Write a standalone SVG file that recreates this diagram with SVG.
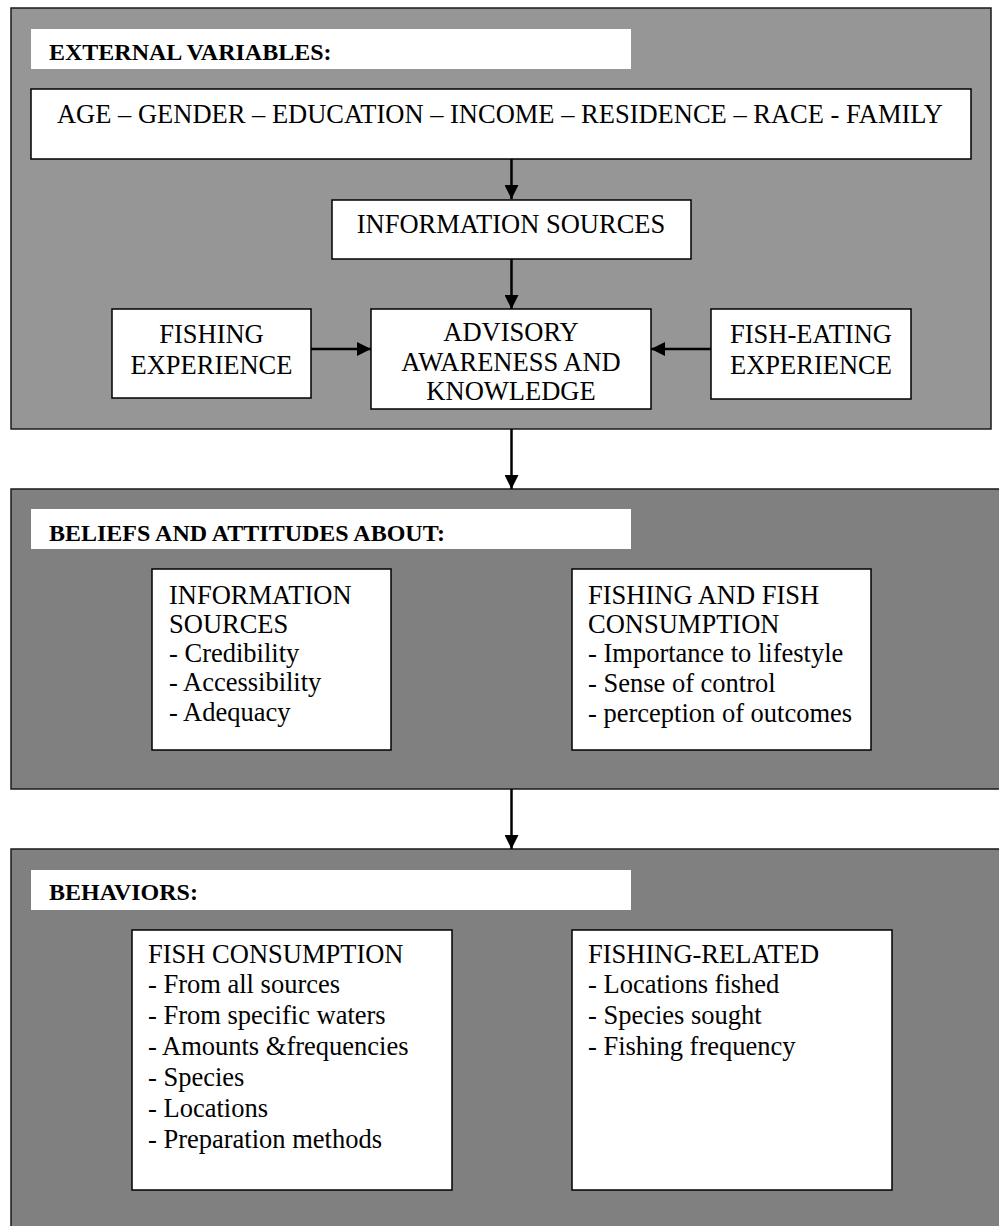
<svg xmlns="http://www.w3.org/2000/svg" width="999" height="1226" viewBox="0 0 999 1226">
<style>
.bg{fill:#ffffff}
.panel1{fill:#969696;stroke:#1a1a1a;stroke-width:1.5}
.panel{fill:#808080;stroke:#1a1a1a;stroke-width:1.5}
.bar{fill:#ffffff;stroke:none}
.box{fill:#ffffff;stroke:#000000;stroke-width:1.5}
.h{font-family:"Liberation Serif","Times New Roman",serif;font-size:24px;font-weight:bold;fill:#000}
.t{font-family:"Liberation Serif","Times New Roman",serif;font-size:26.5px;fill:#000}
.c{text-anchor:middle}
.conn{stroke:#000;stroke-width:2.5;fill:none}
</style>
<defs>
<marker id="ah" viewBox="0 0 10 10" refX="10" refY="5" markerUnits="userSpaceOnUse" markerWidth="15" markerHeight="14" orient="auto">
<path d="M0,0 L10,5 L0,10 Z" fill="#000"/>
</marker>
</defs>
<rect class="bg" x="0" y="0" width="999" height="1226"/>

<g id="panel-external">
<rect class="panel1" x="11" y="8" width="980" height="421"/>
<rect class="bar" x="31" y="29" width="600" height="40"/>
<text class="h" x="49" y="60">EXTERNAL VARIABLES:</text>
</g>

<g id="node-demographics">
<rect class="box" x="31" y="89" width="940" height="70"/>
<text class="t c" x="500" y="123">AGE – GENDER – EDUCATION – INCOME – RESIDENCE – RACE - FAMILY</text>
</g>

<g id="node-info-sources">
<rect class="box" x="332" y="200" width="359" height="59"/>
<text class="t c" x="511" y="233">INFORMATION SOURCES</text>
</g>

<g id="node-fishing-exp">
<rect class="box" x="112" y="309" width="199" height="89"/>
<text class="t c" x="211.5" y="343">FISHING</text>
<text class="t c" x="211.5" y="374">EXPERIENCE</text>
</g>

<g id="node-advisory">
<rect class="box" x="371" y="309" width="280" height="100"/>
<text class="t c" x="511" y="341">ADVISORY</text>
<text class="t c" x="511" y="371">AWARENESS AND</text>
<text class="t c" x="511" y="400">KNOWLEDGE</text>
</g>

<g id="node-fisheating-exp">
<rect class="box" x="711" y="309" width="200" height="90"/>
<text class="t c" x="811" y="343">FISH-EATING</text>
<text class="t c" x="811" y="374">EXPERIENCE</text>
</g>

<g id="panel-beliefs">
<rect class="panel" x="11" y="489" width="1000" height="300"/>
<rect class="bar" x="31" y="509" width="600" height="40"/>
<text class="h" x="49" y="541">BELIEFS AND ATTITUDES ABOUT:</text>
</g>

<g id="node-beliefs-info">
<rect class="box" x="152" y="569" width="239" height="181"/>
<text class="t" x="169" y="604">INFORMATION</text>
<text class="t" x="169" y="633">SOURCES</text>
<text class="t" x="169" y="662">- Credibility</text>
<text class="t" x="169" y="691">- Accessibility</text>
<text class="t" x="169" y="721">- Adequacy</text>
</g>

<g id="node-beliefs-fishing">
<rect class="box" x="572" y="569" width="299" height="181"/>
<text class="t" x="588" y="604">FISHING AND FISH</text>
<text class="t" x="588" y="633">CONSUMPTION</text>
<text class="t" x="588" y="662">- Importance to lifestyle</text>
<text class="t" x="588" y="692">- Sense of control</text>
<text class="t" x="588" y="722">- perception of outcomes</text>
</g>

<g id="panel-behaviors">
<rect class="panel" x="11" y="849" width="1000" height="400"/>
<rect class="bar" x="31" y="870" width="600" height="40"/>
<text class="h" x="49" y="900">BEHAVIORS:</text>
</g>

<g id="node-fish-consumption">
<rect class="box" x="132" y="930" width="320" height="260"/>
<text class="t" x="148" y="963">FISH CONSUMPTION</text>
<text class="t" x="148" y="993">- From all sources</text>
<text class="t" x="148" y="1024">- From specific waters</text>
<text class="t" x="148" y="1055">- Amounts &amp;frequencies</text>
<text class="t" x="148" y="1086">- Species</text>
<text class="t" x="148" y="1117">- Locations</text>
<text class="t" x="148" y="1148">- Preparation methods</text>
</g>

<g id="node-fishing-related">
<rect class="box" x="572" y="930" width="320" height="260"/>
<text class="t" x="588" y="963">FISHING-RELATED</text>
<text class="t" x="588" y="993">- Locations fished</text>
<text class="t" x="588" y="1024">- Species sought</text>
<text class="t" x="588" y="1055">- Fishing frequency</text>
</g>

<g id="connectors">
<line class="conn" x1="511.5" y1="159" x2="511.5" y2="199" marker-end="url(#ah)"/>
<line class="conn" x1="511.5" y1="259" x2="511.5" y2="309" marker-end="url(#ah)"/>
<line class="conn" x1="311" y1="349" x2="371" y2="349" marker-end="url(#ah)"/>
<line class="conn" x1="711" y1="349" x2="651" y2="349" marker-end="url(#ah)"/>
<line class="conn" x1="511.5" y1="429" x2="511.5" y2="489" marker-end="url(#ah)"/>
<line class="conn" x1="511.5" y1="789" x2="511.5" y2="849" marker-end="url(#ah)"/>
</g>
</svg>
